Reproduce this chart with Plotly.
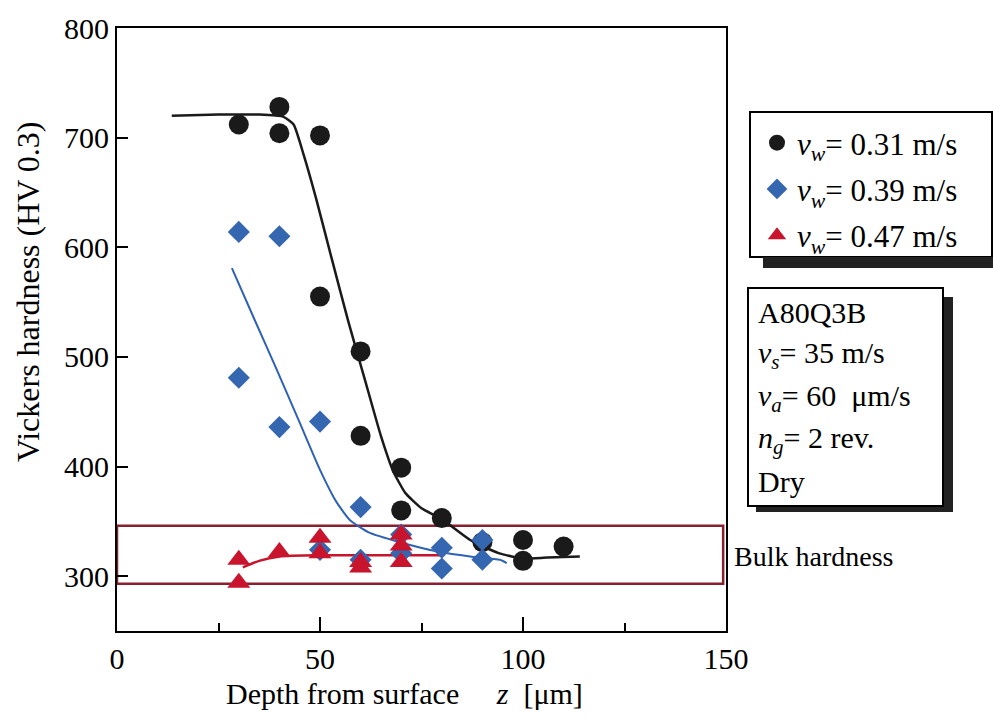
import plotly.graph_objects as go

# ---------------- data ----------------
depth_031 = [30, 40, 40, 50, 50, 60, 60, 70, 70, 80, 90, 100, 100, 110]
hv_031 = [712, 728, 704, 702, 555, 505, 428, 399, 360, 353, 331, 333, 314, 327]

depth_039 = [30, 30, 40, 40, 50, 50, 60, 60, 70, 70, 80, 80, 90, 90]
hv_039 = [614, 481, 610, 436, 441, 324, 363, 315, 338, 321, 326, 307, 333, 315]

depth_047 = [30, 30, 40, 50, 50, 60, 60, 70, 70, 70]
hv_047 = [315, 294, 322, 335, 321, 313, 308, 338, 328, 313]

curve_031_x = [13.5, 25, 35, 41, 43.5, 46, 49, 53, 57, 61, 65, 68, 71, 75, 80, 87, 94, 100, 106, 114]
curve_031_y = [720, 721, 721, 719, 712, 684, 645, 588, 532, 480, 428, 396, 376, 362, 352, 333, 321, 316, 317, 318]

curve_039_x = [28.3, 34, 39.4, 45, 50, 54, 57.4, 62, 69.7, 79.6, 87, 94.3, 96]
curve_039_y = [581, 533, 488, 440, 397, 368, 351, 340, 331, 322, 318, 315, 312]

curve_047_x = [31, 35, 40.1, 50, 60, 70, 80.3]
curve_047_y = [308, 314, 318, 319, 319, 319, 319]

bulk_low, bulk_high = 293, 346

legend_names = ["<i>v</i><sub><i>w</i></sub>= 0.31 m/s",
                "<i>v</i><sub><i>w</i></sub>= 0.39 m/s",
                "<i>v</i><sub><i>w</i></sub>= 0.47 m/s"]

info_lines = ["A80Q3B",
              "<i>v</i><sub><i>s</i></sub>= 35 m/s",
              "<i>v</i><sub><i>a</i></sub>= 60\u00a0 \u03bcm/s",
              "<i>n</i><sub><i>g</i></sub>= 2 rev.",
              "Dry"]

x_ticks = [0, 50, 100, 150]
x_minor = [25, 75, 125]
y_ticks = [300, 400, 500, 600, 700, 800]

# ---------------- layout geometry ----------------
W, H = 993, 718
L, R, T, B = 117, 726, 28, 631   # plot frame in pixels


def px(xp):
    return (xp - L) / (R - L)


def py(yp):
    return (B - yp) / (B - T)


FONT = "Liberation Serif, Times New Roman, serif"
BLACK = "#1a1a1a"
BLUE = "#3566b0"
RED = "#c8142d"
MAROON = "#8a1f30"

fig = go.Figure()

# fitted curves
fig.add_trace(go.Scatter(x=curve_031_x, y=curve_031_y, mode="lines",
                         line=dict(color=BLACK, width=2.5, shape="spline", smoothing=0.5),
                         showlegend=False, hoverinfo="skip"))
fig.add_trace(go.Scatter(x=curve_039_x, y=curve_039_y, mode="lines",
                         line=dict(color="#2f62b4", width=2, shape="spline", smoothing=0.5),
                         showlegend=False, hoverinfo="skip"))
fig.add_trace(go.Scatter(x=curve_047_x, y=curve_047_y, mode="lines",
                         line=dict(color=RED, width=2.5, shape="spline", smoothing=0.5),
                         showlegend=False, hoverinfo="skip"))

# measured points
fig.add_trace(go.Scatter(x=depth_031, y=hv_031, mode="markers", name=legend_names[0],
                         legendgroup="g1",
                         marker=dict(symbol="circle", size=20, color=BLACK)))
fig.add_trace(go.Scatter(x=depth_039, y=hv_039, mode="markers", name=legend_names[1],
                         legendgroup="g2",
                         marker=dict(symbol="diamond", size=17, color=BLUE)))
fig.add_trace(go.Scatter(x=depth_047, y=hv_047, mode="markers", name=legend_names[2],
                         legendgroup="g3",
                         marker=dict(symbol="triangle-up", size=20, color=RED)))

shapes = [
    # bulk hardness band
    dict(type="rect", xref="x", yref="y", x0=0, x1=149.3, y0=bulk_low, y1=bulk_high,
         line=dict(color=MAROON, width=2.5), layer="below"),
    # legend box + shadow
    dict(type="rect", xref="paper", yref="paper", x0=px(763), x1=px(996), y0=py(268), y1=py(257),
         line=dict(width=0), fillcolor="#222"),
    dict(type="rect", xref="paper", yref="paper", x0=px(750), x1=px(992), y0=py(257), y1=py(112),
         line=dict(color="black", width=2), fillcolor="white", layer="below"),
    # info box + shadow
    dict(type="rect", xref="paper", yref="paper", x0=px(943), x1=px(953), y0=py(512), y1=py(297),
         line=dict(width=0), fillcolor="#222"),
    dict(type="rect", xref="paper", yref="paper", x0=px(756), x1=px(953), y0=py(512), y1=py(506),
         line=dict(width=0), fillcolor="#222"),
    dict(type="rect", xref="paper", yref="paper", x0=px(748), x1=px(943), y0=py(506), y1=py(288),
         line=dict(color="black", width=2), fillcolor="white"),
]

annotations = []
for i, (txt, yc) in enumerate(zip(info_lines, [312, 355, 398, 440, 481])):
    annotations.append(dict(text=txt, xref="paper", yref="paper", x=px(756), y=py(yc),
                            xanchor="left", yanchor="middle", showarrow=False,
                            font=dict(family=FONT, size=30, color="black")))
annotations.append(dict(text="Bulk hardness", xref="paper", yref="paper", x=px(732), y=py(556),
                        xanchor="left", yanchor="middle", showarrow=False,
                        font=dict(family=FONT, size=28, color="black")))
annotations.append(dict(text="Vickers hardness (HV 0.3)", xref="paper", yref="paper",
                        x=px(28), y=py(292), xanchor="center", yanchor="middle",
                        textangle=-90, showarrow=False,
                        font=dict(family=FONT, size=32, color="black")))
annotations.append(dict(text="Depth from surface\u00a0\u00a0\u00a0\u00a0\u00a0<i>z</i>\u00a0\u00a0[\u03bcm]",
                        xref="paper", yref="paper", x=px(404), y=py(693),
                        xanchor="center", yanchor="middle", showarrow=False,
                        font=dict(family=FONT, size=30, color="black")))

fig.update_layout(
    width=W, height=H,
    margin=dict(l=L, r=W - R, t=T, b=H - B, pad=0),
    paper_bgcolor="white", plot_bgcolor="white",
    font=dict(family=FONT, size=30, color="black"),
    shapes=shapes,
    annotations=annotations,
    showlegend=True,
    legend=dict(x=px(757), y=py(116), xanchor="left", yanchor="top",
                bgcolor="rgba(0,0,0,0)", borderwidth=0,
                font=dict(family=FONT, size=31, color="black"),
                tracegroupgap=3, itemsizing="trace"),
)

fig.update_xaxes(range=[0, 150], tickmode="array", tickvals=x_ticks,
                 ticks="inside", ticklen=14, tickwidth=2, tickcolor="black",
                 minor=dict(tickmode="array", tickvals=x_minor, ticks="inside",
                            ticklen=8, tickwidth=2, tickcolor="black", showgrid=False),
                 showline=True, linecolor="black", linewidth=2, mirror=True,
                 showgrid=False, zeroline=False,
                 tickfont=dict(family=FONT, size=30, color="black"))
fig.update_yaxes(range=[250, 800], tickmode="array", tickvals=y_ticks,
                 ticks="inside", ticklen=11, tickwidth=2, tickcolor="black",
                 showline=True, linecolor="black", linewidth=2, mirror=True,
                 showgrid=False, zeroline=False,
                 tickfont=dict(family=FONT, size=30, color="black"))

fig.write_html("out.html")
